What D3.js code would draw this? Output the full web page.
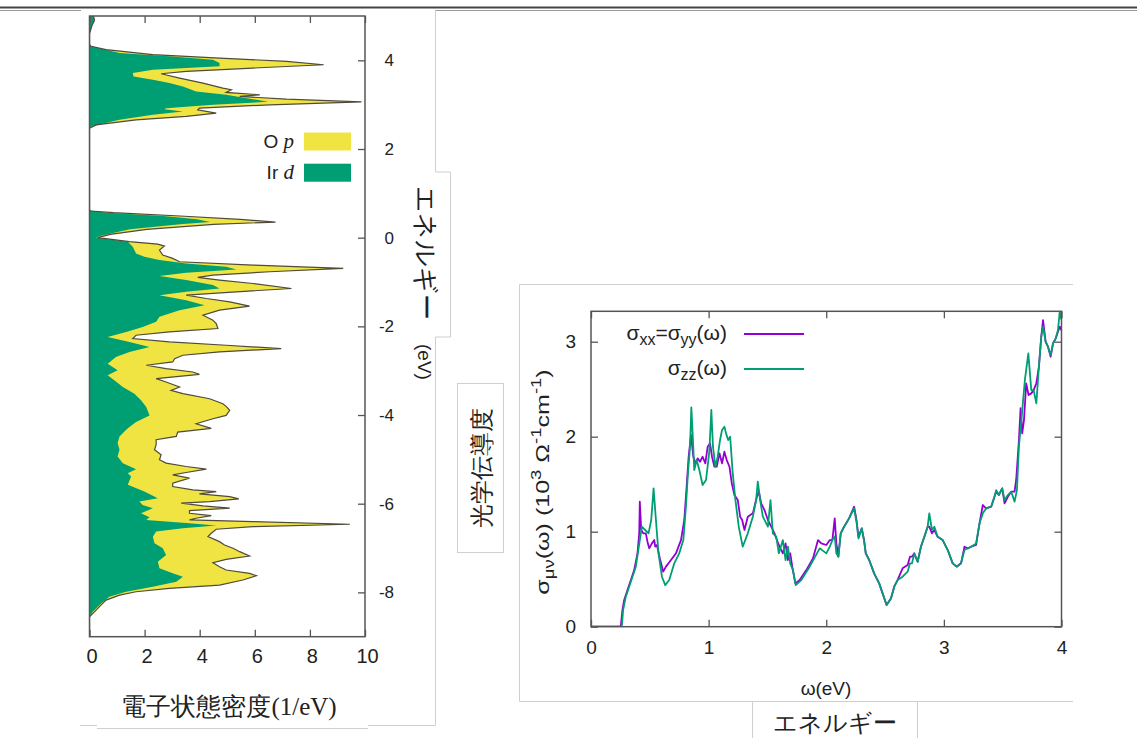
<!DOCTYPE html>
<html>
<head>
<meta charset="utf-8">
<script src="https://cdn.jsdelivr.net/npm/d3@7"></script>
<style>
  body { margin: 0; background: #fff; }
  svg { display: block; }
  text { font-family: "Liberation Sans", Arial, sans-serif; fill: #222; }
</style>
</head>
<body>
<div id="container"></div>
<script>
// ---- density of states, [energy (eV), DOS (1/eV)] ----
const dosTotal = [
  [5.0,0.15],[4.9,0.18],[4.8,0.1],[4.7,0.05],[4.6,0],[4.36,0],[4.316,0.06],[4.24,0.6],[4.127,2.3],
  [4.052,4.72],[3.977,7.15],[3.901,8.5],[3.826,5.93],[3.751,3.51],[3.698,2.6],[3.6,3.27],[3.487,4.12],
  [3.374,4.84],[3.336,5.15],[3.276,4.96],[3.223,6.18],[3.186,5.45],[3.125,7.15],[3.065,9.87],[2.997,6.54],
  [2.922,3.99],[2.884,3.93],[2.809,4.6],[2.734,3.51],[2.658,1.69],[2.545,0.24],[2.47,0],
  [0.62,0],[0.602,0.05],[0.564,0.87],[0.489,3.29],[0.414,5.47],[0.353,6.75],[0.301,4.5],[0.188,2.08],
  [0.075,0.75],[0.0,0.3],[-0.091,1.45],[-0.144,2.48],[-0.189,2.72],[-0.279,2.54],[-0.392,2.66],
  [-0.468,3.02],[-0.543,3.27],[-0.618,5.93],[-0.694,9.21],[-0.769,6.54],[-0.844,4.48],[-0.897,3.93],
  [-0.957,4.72],[-1.033,5.93],[-1.146,7.33],[-1.221,5.33],[-1.296,3.51],[-1.372,4.24],[-1.447,5.09],
  [-1.545,5.81],[-1.635,4.72],[-1.748,4.12],[-1.861,4.48],[-1.937,4.6],[-2.05,4.66],[-2.125,2.9],
  [-2.2,1.69],[-2.276,1.57],[-2.351,2.9],[-2.426,4.96],[-2.502,6.96],[-2.577,4.72],[-2.652,3.39],
  [-2.728,3.09],[-2.803,3.02],[-2.878,2.06],[-2.954,2.78],[-3.029,3.75],[-3.082,3.99],[-3.18,2.42],
  [-3.255,2.78],[-3.368,3.27],[-3.443,2.96],[-3.519,3.39],[-3.632,4.36],[-3.745,4.84],[-3.805,4.96],
  [-3.895,5.09],[-4.008,4.96],[-4.084,4.48],[-4.197,3.87],[-4.3,4.42],[-4.385,3.2],[-4.483,3.15],
  [-4.558,2.42],[-4.671,2.42],[-4.784,2.36],[-4.897,2.6],[-5.01,2.54],[-5.085,2.78],[-5.161,3.51],
  [-5.221,4.24],[-5.297,3.51],[-5.349,3.02],[-5.424,3.63],[-5.537,3.02],[-5.613,3.02],[-5.688,3.75],
  [-5.726,4.6],[-5.779,3.99],[-5.839,5.09],[-5.891,5.42],[-5.952,4.36],[-5.989,3.33],[-6.05,4.12],
  [-6.102,5.09],[-6.155,3.63],[-6.215,3.63],[-6.268,4.42],[-6.328,3.87],[-6.366,3.63],[-6.404,5.93],
  [-6.464,9.45],[-6.517,5.93],[-6.577,4.6],[-6.667,4.42],[-6.743,4.3],[-6.856,4.72],[-6.931,4.9],
  [-7.006,5.21],[-7.082,5.45],[-7.18,5.81],[-7.255,4.96],[-7.33,4.48],[-7.421,4.72],[-7.496,4.96],
  [-7.571,5.81],[-7.624,6.06],[-7.722,5.57],[-7.835,4.72],[-7.91,2.9],[-7.986,1.69],[-8.061,1.09],
  [-8.174,0.6],[-8.249,0.48],[-8.4,0.24],[-8.551,0],[-9,0]
];
const dosIrD = [
  [5.0,0.15],[4.9,0.18],[4.8,0.1],[4.7,0.05],[4.6,0],[4.36,0],[4.316,0.06],[4.165,1.09],[4.09,2.9],
  [4.014,4.48],[3.939,4.72],[3.864,4.72],[3.788,2.3],[3.713,1.57],[3.638,1.6],[3.562,2.3],[3.487,2.9],
  [3.412,3.39],[3.299,3.87],[3.223,4.96],[3.125,5.93],[3.065,6.48],[2.997,4.48],[2.922,2.78],[2.899,2.72],
  [2.847,3.39],[2.771,2.3],[2.658,1.09],[2.508,0.06],[2.47,0],
  [0.62,0],[0.564,0.62],[0.489,2.69],[0.414,3.9],[0.353,4.38],[0.301,3.29],[0.188,1.47],[0.037,0.38],
  [0,0.24],[-0.091,1.39],[-0.204,1.57],[-0.355,1.69],[-0.43,1.99],[-0.505,2.54],[-0.581,3.51],
  [-0.656,4.96],[-0.716,5.33],[-0.792,3.51],[-0.867,2.54],[-0.957,3.51],[-1.07,4.48],[-1.146,4.72],
  [-1.221,3.51],[-1.296,2.54],[-1.409,3.51],[-1.522,4.18],[-1.635,3.27],[-1.786,2.54],[-1.899,2.42],
  [-2.012,1.93],[-2.125,1.33],[-2.238,0.66],[-2.351,1.45],[-2.464,2.18],[-2.577,1.45],[-2.69,0.96],
  [-2.841,0.66],[-2.991,1.02],[-3.104,0.66],[-3.217,0.9],[-3.368,1.21],[-3.519,1.63],[-3.669,1.87],
  [-3.82,2.06],[-4.008,2.18],[-4.159,1.69],[-4.272,1.45],[-4.332,1.33],[-4.483,1.09],[-4.633,1.02],
  [-4.784,1.09],[-4.935,1.02],[-5.085,1.21],[-5.221,1.69],[-5.311,1.39],[-5.387,1.51],[-5.575,1.39],
  [-5.726,1.99],[-5.876,2.48],[-5.952,1.81],[-6.027,1.93],[-6.102,2.3],[-6.215,1.87],[-6.306,2.18],
  [-6.366,2.06],[-6.441,3.63],[-6.494,4.6],[-6.554,3.39],[-6.63,2.42],[-6.743,2.3],[-6.893,2.36],
  [-7.006,2.66],[-7.157,2.78],[-7.308,2.48],[-7.458,2.54],[-7.571,3.02],[-7.647,3.39],[-7.76,3.15],
  [-7.873,2.3],[-7.986,1.33],[-8.099,0.72],[-8.249,0.42],[-8.438,0.12],[-8.551,0],[-9,0]
];
const dosTicks = [0, 2, 4, 6, 8, 10];
const energyTicks = [-8, -6, -4, -2, 0, 2, 4];

// ---- optical conductivity, [omega (eV), sigma (10^3 / ohm cm)] ----
const sigmaXX = [
  [0,0],[0.253,0],[0.267,0.175],[0.282,0.281],[0.31,0.386],[0.339,0.491],[0.367,0.596],[0.395,0.772],
  [0.41,0.983],[0.415,1.316],[0.427,1.018],[0.444,0.983],[0.466,0.983],[0.48,0.895],[0.495,0.825],
  [0.518,0.877],[0.538,0.912],[0.546,0.842],[0.56,0.86],[0.585,0.72],[0.614,0.579],[0.637,0.632],
  [0.68,0.702],[0.722,0.772],[0.765,0.912],[0.793,1.123],[0.813,1.474],[0.83,1.789],[0.85,2.018],
  [0.87,1.789],[0.887,1.719],[0.907,1.772],[0.927,1.737],[0.949,1.789],[0.972,1.719],[0.992,1.895],
  [1.012,1.93],[1.029,1.789],[1.049,1.684],[1.069,1.684],[1.092,1.825],[1.114,1.719],[1.134,1.842],
  [1.154,1.754],[1.177,1.684],[1.197,1.509],[1.219,1.386],[1.248,1.333],[1.268,1.158],[1.285,1.123],
  [1.305,1.018],[1.333,1.158],[1.376,1.193],[1.41,1.368],[1.427,1.421],[1.447,1.298],[1.475,1.228],
  [1.504,1.123],[1.532,1.053],[1.56,0.983],[1.58,0.912],[1.603,0.842],[1.631,0.772],[1.654,0.877],
  [1.674,0.702],[1.694,0.772],[1.711,0.632],[1.737,0.456],[1.774,0.491],[1.83,0.596],[1.887,0.719],
  [1.93,0.912],[1.958,0.877],[2.001,0.86],[2.03,0.912],[2.052,0.912],[2.072,1.14],[2.086,0.877],
  [2.103,0.737],[2.123,0.983],[2.152,1.053],[2.194,1.14],[2.237,1.263],[2.257,1.123],[2.274,0.947],
  [2.302,1.035],[2.322,0.912],[2.336,0.772],[2.365,0.702],[2.407,0.561],[2.45,0.456],[2.479,0.351],
  [2.513,0.228],[2.55,0.298],[2.578,0.421],[2.606,0.491],[2.649,0.614],[2.692,0.649],[2.712,0.737],
  [2.729,0.737],[2.748,0.772],[2.777,0.684],[2.805,0.842],[2.834,0.947],[2.862,1.053],[2.876,1.053],
  [2.899,0.983],[2.919,1.018],[2.947,0.947],[2.99,0.912],[3.033,0.807],[3.075,0.667],[3.109,0.632],
  [3.146,0.667],[3.175,0.842],[3.203,0.825],[3.232,0.842],[3.274,0.86],[3.303,1.088],[3.331,1.281],
  [3.359,1.245],[3.402,1.263],[3.43,1.368],[3.445,1.421],[3.467,1.386],[3.496,1.456],[3.516,1.298],
  [3.544,1.368],[3.573,1.421],[3.601,1.421],[3.615,1.55],[3.638,1.965],[3.652,2.3],[3.666,2.035],
  [3.681,2.175],[3.7,2.561],[3.72,2.439],[3.743,2.456],[3.763,2.49],[3.786,2.561],[3.808,2.737],
  [3.828,3.053],[3.843,3.228],[3.865,3.0],[3.885,2.947],[3.908,2.842],[3.928,2.982],[3.951,3.035],
  [3.97,3.105],[3.985,3.158],[4.0,3.12]
];
const sigmaZZ = [
  [0,0],[0.262,0],[0.273,0.175],[0.296,0.316],[0.381,0.632],[0.415,0.912],[0.432,1.053],[0.461,1.018],
  [0.489,0.983],[0.512,1.123],[0.532,1.456],[0.552,1.123],[0.574,0.772],[0.603,0.526],[0.631,0.438],
  [0.665,0.491],[0.708,0.667],[0.75,0.772],[0.785,0.912],[0.807,1.263],[0.824,1.614],[0.842,1.895],
  [0.853,2.309],[0.864,2.035],[0.878,1.649],[0.898,1.754],[0.921,1.649],[0.949,1.491],[0.978,1.544],
  [1.006,1.842],[1.023,2.281],[1.037,1.895],[1.057,1.684],[1.077,1.789],[1.097,1.965],[1.114,2.07],
  [1.134,2.105],[1.148,2.035],[1.166,1.965],[1.183,2.0],[1.205,1.614],[1.228,1.333],[1.256,1.053],
  [1.29,0.842],[1.333,0.983],[1.376,1.158],[1.404,1.333],[1.418,1.526],[1.438,1.333],[1.461,1.158],
  [1.504,1.053],[1.526,1.333],[1.546,0.983],[1.575,0.947],[1.597,0.772],[1.631,0.912],[1.654,0.702],
  [1.674,0.842],[1.694,0.667],[1.717,0.596],[1.74,0.438],[1.788,0.491],[1.859,0.632],[1.944,0.825],
  [2.001,0.772],[2.03,0.842],[2.052,0.912],[2.072,0.95],[2.086,0.772],[2.103,0.737],[2.123,0.983],
  [2.152,1.053],[2.194,1.14],[2.237,1.245],[2.257,1.105],[2.274,0.93],[2.302,1.035],[2.322,0.895],
  [2.336,0.772],[2.365,0.702],[2.407,0.561],[2.45,0.456],[2.479,0.351],[2.513,0.228],[2.55,0.298],
  [2.578,0.421],[2.606,0.491],[2.649,0.526],[2.692,0.579],[2.712,0.667],[2.729,0.667],[2.748,0.772],
  [2.777,0.684],[2.805,0.842],[2.834,0.947],[2.862,1.053],[2.876,1.193],[2.899,1.018],[2.919,1.053],
  [2.947,0.947],[2.99,0.912],[3.033,0.807],[3.075,0.667],[3.109,0.632],[3.146,0.667],[3.175,0.807],
  [3.203,0.825],[3.232,0.842],[3.274,0.877],[3.303,1.088],[3.331,1.193],[3.359,1.245],[3.402,1.263],
  [3.43,1.368],[3.445,1.438],[3.467,1.386],[3.496,1.456],[3.516,1.333],[3.544,1.386],[3.573,1.421],
  [3.601,1.316],[3.621,1.438],[3.638,1.9],[3.661,2.2],[3.689,2.6],[3.718,2.877],[3.743,2.49],
  [3.763,2.49],[3.786,2.351],[3.808,2.737],[3.828,3.053],[3.843,3.158],[3.865,3.0],[3.885,2.947],
  [3.908,2.86],[3.928,2.982],[3.951,3.035],[3.97,3.123],[3.985,3.316],[4.0,3.23]
];
const omegaTicks = [0, 1, 2, 3, 4];
const sigmaTicks = [0, 1, 2, 3];

const width = 1137;
const height = 738;
const yellow = "#f0e442";
const green = "#009e73";
const purple = "#9400d3";
const panelLine = "#cfcfcf";
const tickCol = "#555";
const plain = d => String(d);   // plain hyphen minus, no decimals

const svg = d3.select("#container")
  .append("svg")
  .attr("width", width)
  .attr("height", height);

// page decorations: top rule and panel boxes
svg.append("line").attr("x1", 0).attr("x2", width).attr("y1", 7.5).attr("y2", 7.5)
  .attr("stroke", "#444").attr("stroke-width", 2);
[[0, 81], [435, width]].forEach(([a, b]) => {
  svg.append("line").attr("x1", a).attr("x2", b).attr("y1", 10.5).attr("y2", 10.5)
    .attr("stroke", "#999").attr("stroke-width", 1);
});
svg.append("path")
  .attr("d", "M435.5,10 V172 H450.5 V337 H435.5 V725.5 H368 M368,728.5 H97 M97,725.5 H80")
  .attr("fill", "none").attr("stroke", panelLine);
svg.append("path")
  .attr("d", "M1073,284.5 H519.5 V701.5 H1073 M752.5,701.5 V738 M917.5,701.5 V738")
  .attr("fill", "none").attr("stroke", panelLine);
svg.append("rect").attr("x", 457.5).attr("y", 383.5).attr("width", 46).attr("height", 169)
  .attr("fill", "none").attr("stroke", panelLine);

// ================= left: density of states =================
const xDos = d3.scaleLinear().domain([0, 10]).range([89.5, 365]);
const yE = d3.scaleLinear().domain([-9, 5]).range([636.7, 16]);

svg.append("clipPath").attr("id", "clipDos")
  .append("rect").attr("x", 89.5).attr("y", 16).attr("width", 275.5).attr("height", 620.7);

const dosArea = d3.area()
  .y(d => yE(d[0]))
  .x0(xDos(0))
  .x1(d => xDos(d[1]));
const dosLine = d3.line()
  .y(d => yE(d[0]))
  .x(d => xDos(d[1]));

const gDos = svg.append("g").attr("clip-path", "url(#clipDos)");
gDos.append("path").datum(dosTotal).attr("d", dosArea).attr("fill", yellow);
gDos.append("path").datum(dosIrD).attr("d", dosArea).attr("fill", green);
gDos.append("path").datum(dosTotal).attr("d", dosLine)
  .attr("fill", "none").attr("stroke", "#4f4a3a").attr("stroke-width", 1.2);

// frame and inward ticks
svg.append("g").attr("transform", "translate(0,636.7)")
  .call(d3.axisBottom(xDos).tickValues(dosTicks).tickSize(-7).tickPadding(12).tickFormat(plain))
  .call(g => g.select(".domain").remove())
  .call(g => g.selectAll("line").attr("stroke", tickCol).attr("stroke-width", 1.3))
  .call(g => g.selectAll("text").attr("font-size", 20).attr("dx", 2)
    .attr("font-family", "Liberation Sans, Arial, sans-serif").attr("fill", "#222"));
svg.append("g").attr("transform", "translate(0,16)")
  .call(d3.axisTop(xDos).tickValues(dosTicks).tickSize(-7).tickFormat(""))
  .call(g => g.select(".domain").remove())
  .call(g => g.selectAll("line").attr("stroke", tickCol).attr("stroke-width", 1.3));
svg.append("g").attr("transform", "translate(365,0)")
  .call(d3.axisRight(yE).tickValues(energyTicks).tickSize(-7).tickFormat(plain))
  .call(g => g.select(".domain").remove())
  .call(g => g.selectAll("line").attr("stroke", tickCol).attr("stroke-width", 1.3))
  .call(g => g.selectAll("text").attr("x", 29).attr("text-anchor", "end").attr("font-size", 17)
    .attr("font-family", "Liberation Sans, Arial, sans-serif").attr("fill", "#222"));
svg.append("rect").attr("x", 89.5).attr("y", 16).attr("width", 275.5).attr("height", 620.7)
  .attr("fill", "none").attr("stroke", tickCol).attr("stroke-width", 1.5);

// legend
const dosLegend = [["O", "p", yellow, 141.5], ["Ir", "d", green, 172.7]];
dosLegend.forEach(([el, orb, col, cy]) => {
  svg.append("rect").attr("x", 304).attr("y", cy - 9).attr("width", 47).attr("height", 18).attr("fill", col);
  const t = svg.append("text").attr("x", 294).attr("y", cy + 6.5).attr("text-anchor", "end").attr("font-size", 19);
  t.append("tspan").text(el + " ");
  t.append("tspan").text(orb).attr("font-family", "Liberation Serif, serif").attr("font-style", "italic").attr("font-size", 21);
});

// labels
svg.append("text")
  .attr("transform", "translate(426,253) rotate(90)")
  .attr("text-anchor", "middle").attr("dominant-baseline", "central")
  .attr("font-family", "Noto Sans CJK JP").attr("font-weight", 300).attr("font-size", 26)
  .text("エネルギー");
svg.append("text")
  .attr("transform", "translate(424,362) rotate(90)")
  .attr("text-anchor", "middle").attr("dominant-baseline", "central").attr("font-size", 19)
  .text("(eV)");
const dosTitle = svg.append("text").attr("x", 229).attr("y", 715).attr("text-anchor", "middle")
  .attr("font-family", "Noto Sans CJK JP").attr("font-weight", 300).attr("font-size", 25);
dosTitle.append("tspan").text("電子状態密度");
dosTitle.append("tspan").text("(1/eV)").attr("font-family", "Liberation Serif, serif");

// ================= right: optical conductivity =================
const xW = d3.scaleLinear().domain([0, 4]).range([591, 1061.5]);
const yS = d3.scaleLinear().domain([0, 3.32]).range([626.7, 311.3]);

svg.append("clipPath").attr("id", "clipSig")
  .append("rect").attr("x", 591).attr("y", 311.3).attr("width", 470.5).attr("height", 315.4);

const sigLine = d3.line().x(d => xW(d[0])).y(d => yS(d[1]));
const gSig = svg.append("g").attr("clip-path", "url(#clipSig)");
gSig.append("path").datum(sigmaXX).attr("d", sigLine)
  .attr("fill", "none").attr("stroke", purple).attr("stroke-width", 1.8).attr("stroke-linejoin", "round");
gSig.append("path").datum(sigmaZZ).attr("d", sigLine)
  .attr("fill", "none").attr("stroke", green).attr("stroke-width", 1.8).attr("stroke-linejoin", "round");

svg.append("g").attr("transform", "translate(0,626.7)")
  .call(d3.axisBottom(xW).tickValues(omegaTicks).tickSize(-7).tickPadding(14).tickFormat(plain))
  .call(g => g.select(".domain").remove())
  .call(g => g.selectAll("line").attr("stroke", tickCol).attr("stroke-width", 1.3))
  .call(g => g.selectAll("text").attr("font-size", 19)
    .attr("font-family", "Liberation Sans, Arial, sans-serif").attr("fill", "#222"));
svg.append("g").attr("transform", "translate(0,311.3)")
  .call(d3.axisTop(xW).tickValues(omegaTicks).tickSize(-7).tickFormat(""))
  .call(g => g.select(".domain").remove())
  .call(g => g.selectAll("line").attr("stroke", tickCol).attr("stroke-width", 1.3));
svg.append("g").attr("transform", "translate(591,0)")
  .call(d3.axisLeft(yS).tickValues(sigmaTicks).tickSize(-7).tickPadding(15).tickFormat(plain))
  .call(g => g.select(".domain").remove())
  .call(g => g.selectAll("line").attr("stroke", tickCol).attr("stroke-width", 1.3))
  .call(g => g.selectAll("text").attr("font-size", 19)
    .attr("font-family", "Liberation Sans, Arial, sans-serif").attr("fill", "#222"));
svg.append("g").attr("transform", "translate(1061.5,0)")
  .call(d3.axisRight(yS).tickValues(sigmaTicks).tickSize(-7).tickFormat(""))
  .call(g => g.select(".domain").remove())
  .call(g => g.selectAll("line").attr("stroke", tickCol).attr("stroke-width", 1.3));
svg.append("rect").attr("x", 591).attr("y", 311.3).attr("width", 470.5).attr("height", 315.4)
  .attr("fill", "none").attr("stroke", tickCol).attr("stroke-width", 1.5);

// legend
const sigLegend = [
  [["σ", 0], ["xx", 1], ["=σ", 0], ["yy", 1], ["(ω)", 0]],
  [["σ", 0], ["zz", 1], ["(ω)", 0]]
];
const sigColors = [purple, green];
sigLegend.forEach((parts, i) => {
  const cy = 334 + i * 35;
  const t = svg.append("text").attr("x", 727).attr("y", cy + 6).attr("text-anchor", "end").attr("font-size", 21);
  let shift = 0;
  parts.forEach(([s, sub]) => {
    const target = sub ? 5 : 0;
    t.append("tspan").text(s).attr("dy", target - shift).attr("font-size", sub ? 16 : 21);
    shift = target;
  });
  svg.append("line").attr("x1", 744).attr("x2", 804).attr("y1", cy).attr("y2", cy)
    .attr("stroke", sigColors[i]).attr("stroke-width", 1.8);
});

// axis titles
svg.append("text").attr("x", 826).attr("y", 695).attr("text-anchor", "middle").attr("font-size", 19)
  .text("ω(eV)");
const yTitle = svg.append("text")
  .attr("transform", "translate(549,482) rotate(-90) scale(1.32,1)")
  .attr("text-anchor", "middle").attr("font-size", 19);
const yParts = [["σ", 0], ["μν", 1], ["(ω) (10", 0], ["3", -1], [" Ω", 0], ["-1", -1], ["cm", 0], ["-1", -1], [")", 0]];
let yShift = 0;
yParts.forEach(([s, k]) => {
  const target = k === 1 ? 5 : (k === -1 ? -8 : 0);
  yTitle.append("tspan").text(s).attr("dy", target - yShift).attr("font-size", k === 0 ? 19 : 14);
  yShift = target;
});
svg.append("text")
  .attr("transform", "translate(481,468) rotate(-90)")
  .attr("text-anchor", "middle").attr("dominant-baseline", "central")
  .attr("font-family", "Noto Sans CJK JP").attr("font-weight", 300).attr("font-size", 24)
  .text("光学伝導度");
svg.append("text").attr("x", 835).attr("y", 731).attr("text-anchor", "middle")
  .attr("font-family", "Noto Sans CJK JP").attr("font-weight", 300).attr("font-size", 24)
  .text("エネルギー");
</script>
</body>
</html>
